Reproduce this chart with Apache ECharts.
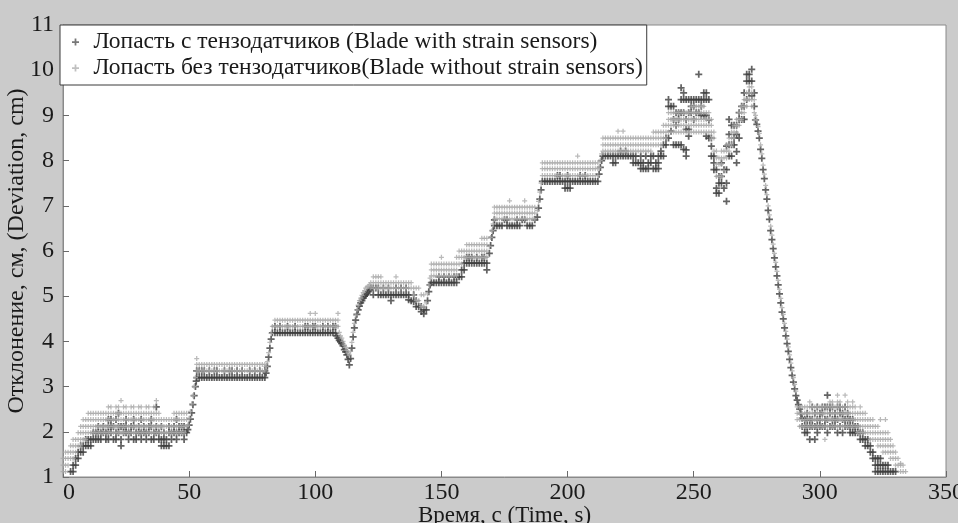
<!DOCTYPE html>
<html>
<head>
<meta charset="utf-8">
<script src="https://cdn.jsdelivr.net/npm/echarts@6/dist/echarts.min.js"></script>
<style>
html,body{margin:0;padding:0;background:#cbcbcb;}
#chart{width:958px;height:523px;}
</style>
</head>
<body>
<div id="chart"></div>
<script>
// Series names
const darkName = 'Лопасть с тензодатчиков (Blade with strain sensors)';
const lightName = 'Лопасть без тензодатчиков(Blade without strain sensors)';
const xTitle = 'Время, с (Time, s)';
const yTitle = 'Отклонение, см, (Deviation, cm)';

// Each column: [time s, deviation values recorded at that second...]
const darkEarly = [
[3,1.12],[4,1.12,1.26],[5,1.26,1.41],[6,1.41,1.55],[7,1.55,1.69],[8,1.55,1.69],[9,1.69,1.83],[10,1.69,1.83],[11,1.69,1.83],[12,1.83,1.98],[13,1.83,1.98],[14,1.83,1.98,2.12],[15,1.83,1.98],[16,1.98,2.12],[17,1.83,1.98],[18,1.83,1.98,2.12,2.27],[19,1.98,2.12,2.27],[20,1.83,2.12],[21,1.83,1.98,2.27],[22,1.98,2.12,2.41],[23,1.69,1.83,2.12],[24,1.98,2.12],[25,1.98,2.12,2.27],[26,1.83,1.98],[27,1.98,2.12],[28,1.83,2.12,2.27],[29,1.83,1.98],[30,1.98,2.12],[31,1.83,1.98,2.27],[32,1.98,2.12],[33,1.83,1.98],[34,1.98,2.12],[35,1.83,2.12,2.27],[36,1.83,1.98],[37,1.98,2.12,2.55],[38,1.83,1.98],[39,1.69,1.83,2.12],[40,1.69,1.83,1.98],[41,1.69,1.83],[42,1.69,1.98,2.12],[43,1.83,1.98],[44,1.98,2.12],[45,1.83,1.98,2.27],[46,1.98,2.12],[47,1.98,2.12],[48,1.83,1.98,2.12],[49,1.98],
[53,3.2,3.35],[54,3.2,3.35],[55,3.2,3.35],[56,3.2,3.35],[57,3.2],[58,3.2,3.35],[59,3.2],[60,3.2,3.35],[61,3.2,3.35],[62,3.2],[63,3.2],[64,3.2,3.35],[65,3.2],[66,3.2,3.35],[67,3.2,3.35],[68,3.2],[69,3.2,3.35],[70,3.2],[71,3.2,3.35],[72,3.2],[73,3.2],[74,3.2,3.35],[75,3.2],[76,3.2,3.35],[77,3.2],[78,3.2,3.35],[79,3.2],[80,3.2,3.35],
[83,4.19],[84,4.19,4.33],[85,4.19],[86,4.19,4.33],[87,4.19],[88,4.19],[89,4.19,4.33],[90,4.19],[91,4.19],[92,4.19,4.33],[93,4.19],[94,4.19],[95,4.19],[96,4.19,4.33],[97,4.19,4.33],[98,4.19],[99,4.19,4.33]
];
const darkMid = [
[100,4.19,4.33],[101,4.19],[102,4.19],[103,4.19,4.33],[104,4.19],[105,4.19,4.33],[106,4.19],[107,4.19,4.33],[108,4.19,4.33],
[122,5.18],[123,5.03,5.18],[124,5.18],[125,5.03,5.18],[126,5.03],[127,5.03,5.18],[128,5.03],[129,5.03,5.18],[130,4.9,5.03],[131,5.03],[132,5.03,5.18],[133,5.03],[134,5.03,5.18],[135,5.03],[136,5.03,5.18],[137,4.92,5.03],[138,4.9],[139,4.88,5.03],[140,4.77,4.9],[141,4.77],[142,4.66,4.77],[143,4.61,4.7],
[146,5.3],[147,5.3],[148,5.3],[149,5.3,5.43],[150,5.3],[151,5.3,5.43],[152,5.3],[153,5.3,5.43],[154,5.3],[155,5.3,5.43],[156,5.3,5.43],[157,5.43],[158,5.43,5.58],[159,5.58,5.73],[160,5.73,5.86],[161,5.73,5.86],[162,5.73,5.86],[163,5.73],[164,5.73,5.86],[165,5.73],[166,5.73,5.86],[167,5.73,5.86],[168,5.58,5.73],
[171,6.56,6.69],[172,6.56],[173,6.56],[174,6.56],[175,6.69],[176,6.56,6.69],[177,6.56],[178,6.56],[179,6.56],[180,6.56,6.69],[181,6.56],[182,6.69],[183,6.69],[184,6.56],[185,6.56],[186,6.56],[187,6.69],
[190,7.54],[191,7.54],[192,7.54],[193,7.54],[194,7.54],[195,7.54],[196,7.54,7.67],[197,7.54,7.67],[198,7.54],[199,7.39,7.54]
];
const darkLate = [
[200,7.39,7.54,7.67],[201,7.39,7.54],[202,7.54],[203,7.54],[204,7.54],[205,7.54,7.67],[206,7.54],[207,7.54,7.67],[208,7.54],[209,7.54],[210,7.54],[211,7.54],[212,7.54],
[214,8.1],[215,8.1],[216,8.1],[217,8.1],[218,7.95,8.1],[219,7.95,8.1],[220,8.1],[221,8.1,8.21],[222,8.1],[223,8.1,8.21],[224,8.1],[225,8.1],[226,7.95,8.1],[227,7.95,8.1],[228,7.95],[229,7.82,7.95,8.1],[230,7.82,7.95],[231,7.82,8.1],[232,7.82,7.95],[233,7.95,8.1],[234,7.82,8.1],[235,7.82,7.95],[236,7.82,7.95,8.1],[237,8.1,8.21],
[238,8.1,8.35],[239,8.35,8.5],[240,8.5,9.2,9.35],[241,8.65,9.2],[242,8.35,8.91,9.2],[243,8.35,8.78,9.06],[244,8.35,8.91,9.06],[245,8.35,9.06,9.35,9.61],[246,8.25,9.06,9.35,9.5],[247,8.1,8.24,8.69,8.91,9.35],[248,8.54,8.69,9.06,9.35],[249,9.06,9.2,9.35],[250,8.91,9.2,9.35],[251,9.06,9.35],[252,9.06,9.35,9.91],[253,9.0,9.2,9.35],[254,9.0,9.35,9.5],[255,8.54,9.0,9.35,9.5],[256,8.5,8.9,9.35],[257,8.1,8.32,8.5],[258,7.8,7.95,8.1],[259,7.28,7.39,7.8],[260,7.28,7.5,7.65],[261,7.5,7.65,7.95],[262,7.39,7.8],[263,7.1,7.5,7.8,8.32],[264,8.1,8.35,8.58,8.91],[265,8.1,8.35,8.78],[266,8.35,8.5,8.78],[267,7.95,8.2,8.58,8.78],[268,8.5,8.91,9.06],[269,8.91,9.2],[270,8.91,9.2,9.5],[271,9.35,9.76,9.91],[272,9.5,9.76,9.91],[273,9.43,9.76,10.02],[274,9.2,9.5],
[293,2.12,2.3],[294,1.98,2.12,2.27],[295,1.98,2.12,2.27,2.41],[296,1.83,2.12,2.27],[297,2.12,2.27,2.55],[298,1.83,2.12,2.41],[299,1.98,2.12,2.27,2.55],[300,2.12,2.27,2.41],[301,2.12,2.41,2.55],[302,2.12,2.27,2.55],[303,1.98,2.27,2.55,2.81],[304,2.12,2.41,2.55],[305,2.12,2.27,2.55],[306,2.12,2.27,2.41],[307,1.98,2.27,2.55],[308,2.12,2.41,2.55],[309,1.98,2.27,2.41],[310,2.12,2.27,2.55],[311,2.12,2.27,2.41],[312,1.98,2.12,2.27],[313,1.98,2.12,2.27],[314,1.98,2.12],[315,1.98,2.12],[316,1.83,1.98],[317,1.83,1.98],[318,1.69,1.83],[319,1.69,1.83],[320,1.55,1.69],[321,1.41,1.55],[322,1.12,1.26,1.41],[323,1.12,1.26,1.41],[324,1.12,1.26,1.41],[325,1.12,1.26],[326,1.12,1.26],[327,1.12,1.26],[328,1.12],[329,1.12],[330,1.12]
];
// Steep transitions sampled more densely: [time s, deviation]
const darkSteep = [
[49.5,2.05],[50,2.15],[50.5,2.28],[51,2.42],[51.5,2.6],[52,2.8],[52.5,3.0],[52.8,3.12],
[80.5,3.3],[81,3.45],[81.5,3.65],[82,3.85],[82.5,4.05],
[108.5,4.12],[109,4.07],[109.5,4.02],[110,3.99],[110.5,3.95],[111,3.9],[111.5,3.82],[112,3.77],[112.5,3.7],[113,3.6],[113.5,3.48],[114,3.62],[114.5,3.85],[115,4.1],[115.5,4.3],[116,4.47],[116.5,4.6],[117,4.7],[117.5,4.78],[118,4.85],[118.5,4.9],[119,4.96],[119.5,5.0],[120,5.03],[120.5,5.06],[121,5.1],[121.5,5.14],
[144,4.7],[144.5,4.9],[145,5.1],[145.5,5.25],
[169,5.95],[169.5,6.12],[170,6.3],[170.5,6.45],
[188,6.75],[188.5,6.95],[189,7.15],[189.5,7.35],
[212.5,7.7],[213,7.85],[213.5,8.0],
[274.5,8.9],[275,8.8],[275.5,8.65],[276,8.5],[276.5,8.25],[277,8.05],[277.5,7.8],[278,7.6],[278.5,7.35],[279,7.15],[279.5,6.9],[280,6.7],[280.5,6.45],[281,6.25],[281.5,6.05],[282,5.85],[282.5,5.65],[283,5.45],[283.5,5.25],[284,5.05],[284.5,4.85],[285,4.65],[285.5,4.5],[286,4.3],[286.5,4.12],[287,3.95],[287.5,3.78],[288,3.6],[288.5,3.42],[289,3.25],[289.5,3.1],[290,2.95],[290.5,2.8],[291,2.7],[291.5,2.6],[292,2.5],[292.5,2.4]
];

const lightEarly = [
[0,1.12,1.26,1.41],[1,1.12,1.26,1.41,1.55],[2,1.26,1.41,1.55],[3,1.41,1.55,1.69],[4,1.41,1.55,1.69,1.83],[5,1.55,1.69,1.83],[6,1.69,1.83,1.98],[7,1.69,1.83,1.98,2.12],[8,1.83,1.98,2.12,2.27],[9,1.83,1.98,2.12,2.27],[10,1.98,2.12,2.27,2.41],[11,1.98,2.12,2.27,2.41],[12,1.98,2.12,2.27,2.41],[13,1.98,2.12,2.27,2.41],[14,1.98,2.12,2.27,2.41],[15,1.98,2.12,2.27,2.41],[16,1.98,2.12,2.27,2.41],[17,1.98,2.12,2.27,2.41],[18,1.98,2.12,2.27,2.41,2.55],[19,1.98,2.12,2.27,2.41,2.55],[20,1.98,2.12,2.27,2.41],[21,1.98,2.12,2.27,2.41,2.55],[22,1.98,2.12,2.27,2.41,2.55],[23,1.98,2.12,2.27,2.41,2.69],[24,1.98,2.12,2.27,2.41,2.55],[25,1.98,2.12,2.27,2.41,2.55],[26,1.98,2.12,2.27,2.41],[27,1.98,2.12,2.27,2.41,2.55],[28,1.98,2.12,2.27,2.41,2.55],[29,1.98,2.12,2.27,2.41],[30,1.98,2.12,2.27,2.41,2.55],[31,1.98,2.12,2.27,2.41,2.55],[32,1.98,2.12,2.27,2.41],[33,1.98,2.12,2.27,2.41,2.55],[34,1.98,2.12,2.27,2.41,2.55],[35,1.98,2.12,2.27,2.41],[36,1.98,2.12,2.27,2.41,2.55],[37,1.98,2.12,2.27,2.41,2.69],[38,1.98,2.12,2.27,2.41],[39,1.98,2.12,2.27],[40,1.98,2.12,2.27],[41,1.98,2.12,2.27],[42,1.98,2.12,2.27],[43,1.98,2.12,2.27],[44,1.98,2.12,2.27,2.41],[45,1.98,2.12,2.27,2.41],[46,1.98,2.12,2.27,2.41],[47,1.98,2.12,2.27,2.41],[48,1.98,2.12,2.27,2.41],[49,2.12,2.27,2.41],
[53,3.35,3.49,3.62],[54,3.35,3.49],[55,3.35,3.49],[56,3.35,3.49],[57,3.35,3.49],[58,3.35,3.49],[59,3.35,3.49],[60,3.35,3.49],[61,3.35,3.49],[62,3.35,3.49],[63,3.35,3.49],[64,3.35,3.49],[65,3.35,3.49],[66,3.35,3.49],[67,3.35,3.49],[68,3.35,3.49],[69,3.35,3.49],[70,3.35,3.49],[71,3.35,3.49],[72,3.35,3.49],[73,3.35,3.49],[74,3.35,3.49],[75,3.35,3.49],[76,3.35,3.49],[77,3.35,3.49],[78,3.35,3.49],[79,3.35,3.49],[80,3.35,3.49],
[83,4.33],[84,4.33,4.47],[85,4.33,4.47],[86,4.33,4.47],[87,4.33,4.47],[88,4.33,4.47],[89,4.33,4.47],[90,4.33,4.47],[91,4.33,4.47],[92,4.33,4.47],[93,4.33,4.47],[94,4.33,4.47],[95,4.33,4.47],[96,4.33,4.47],[97,4.33,4.47],[98,4.33,4.47,4.62],[99,4.33,4.47]
];
const lightMid = [
[100,4.33,4.47,4.62],[101,4.33,4.47],[102,4.33,4.47],[103,4.33,4.47],[104,4.33,4.47],[105,4.33,4.47],[106,4.33,4.47],[107,4.33,4.47],[108,4.33,4.47],[109,4.33,4.47,4.62],
[122,5.18,5.3],[123,5.18,5.3,5.43],[124,5.18,5.3,5.43],[125,5.18,5.3,5.43],[126,5.18,5.3,5.43],[127,5.18,5.3],[128,5.18,5.3],[129,5.18,5.3],[130,5.18,5.3],[131,5.18,5.3],[132,5.18,5.3,5.43],[133,5.18,5.3],[134,5.18,5.3],[135,5.18,5.3],[136,5.18,5.3],[137,5.18,5.3],[138,5.18,5.3],[139,5.03,5.18],[140,4.9,5.18],[141,4.9,5.18],[142,4.77,5.03],[143,4.77,5.03],
[146,5.45,5.58,5.71],[147,5.45,5.58,5.71],[148,5.45,5.58,5.71],[149,5.45,5.58,5.71],[150,5.45,5.58,5.71,5.86],[151,5.45,5.58,5.71],[152,5.45,5.58,5.71],[153,5.45,5.58,5.71],[154,5.45,5.58,5.71],[155,5.45,5.58,5.71],[156,5.45,5.58,5.71,5.86],[157,5.71,5.86,6.0],[158,5.71,5.86,6.0],[159,5.86,6.0],[160,5.86,6.0,6.14],[161,5.86,6.0,6.14],[162,5.86,6.0,6.14],[163,5.86,6.0,6.14],[164,5.86,6.0,6.14],[165,5.86,6.0,6.14],[166,5.86,6.0,6.14,6.28],[167,5.86,6.0,6.14,6.28],[168,5.86,6.0,6.14,6.28],
[171,6.71,6.84,6.97],[172,6.71,6.84,6.97],[173,6.71,6.84,6.97],[174,6.71,6.84,6.97],[175,6.71,6.84,6.97],[176,6.71,6.84,6.97],[177,6.71,6.84,6.97,7.11],[178,6.71,6.84,6.97],[179,6.71,6.84,6.97],[180,6.71,6.84,6.97],[181,6.71,6.84,6.97],[182,6.71,6.84,6.97],[183,6.71,6.84,6.97,7.11],[184,6.71,6.84,6.97],[185,6.71,6.84,6.97],[186,6.71,6.84,6.97],[187,6.71,6.84,6.97],
[190,7.67,7.82,7.95],[191,7.67,7.82,7.95],[192,7.67,7.82,7.95],[193,7.67,7.82,7.95],[194,7.67,7.82,7.95],[195,7.67,7.82,7.95],[196,7.67,7.82,7.95],[197,7.67,7.82,7.95],[198,7.67,7.82,7.95],[199,7.67,7.82,7.95]
];
const lightLate = [
[200,7.67,7.82,7.95],[201,7.67,7.82,7.95],[202,7.67,7.82,7.95],[203,7.67,7.82,7.95],[204,7.67,7.82,7.95,8.1],[205,7.67,7.82,7.95],[206,7.67,7.82,7.95],[207,7.67,7.82,7.95],[208,7.67,7.82,7.95],[209,7.67,7.82,7.95],[210,7.67,7.82,7.95],[211,7.67,7.82,7.95],[212,7.67,7.82,7.95],
[214,8.21,8.35,8.5],[215,8.21,8.35,8.5],[216,8.21,8.35,8.5],[217,8.21,8.35,8.5],[218,8.21,8.35,8.5],[219,8.21,8.35,8.5],[220,8.21,8.35,8.5,8.65],[221,8.21,8.35,8.5],[222,8.21,8.35,8.5,8.65],[223,8.21,8.35,8.5],[224,8.21,8.35,8.5],[225,8.21,8.35,8.5],[226,8.21,8.35,8.5],[227,8.21,8.35,8.5],[228,8.21,8.35,8.5],[229,8.21,8.35,8.5],[230,8.21,8.35,8.5],[231,8.21,8.35,8.5],[232,8.21,8.35,8.5],[233,8.21,8.35,8.5],
[234,8.35,8.5,8.63],[235,8.35,8.5,8.63],[236,8.35,8.5,8.63],[237,8.35,8.5,8.63],[238,8.5,8.63,8.78],[239,8.5,8.63,8.78],
[240,8.63,8.78,8.91,9.06],[241,8.63,8.78,8.91,9.06],[242,8.63,8.78,8.91,9.06],[243,8.63,8.78,8.91,9.06],[244,8.63,8.78,8.91,9.06],[245,8.63,8.78,8.91,9.06],[246,8.63,8.78,8.91,9.06],[247,8.63,8.78,8.91,9.06],[248,8.63,8.78,8.91,9.06],[249,8.63,8.78,8.91,9.06,9.2],[250,8.63,8.78,8.91,9.06,9.2],[251,8.63,8.78,8.91,9.06,9.2],[252,8.63,8.78,8.91,9.06,9.2],[253,8.63,8.78,8.91,9.06,9.2],[254,8.63,8.78,8.91,9.06,9.2],
[255,8.63,8.78,8.91,9.06],[256,8.63,8.78,8.91,9.06],[257,8.5,8.63,8.78,8.91],[258,8.21,8.5,8.63],[259,7.65,7.92,8.06,8.21],[260,7.65,7.92,8.06],[261,7.65,7.92,8.06,8.21],[262,7.78,8.06,8.21],[263,8.06,8.21,8.35],[264,8.21,8.35,8.5],[265,8.35,8.5,8.63],[266,8.5,8.63,8.78],[267,8.63,8.78,8.91],[268,8.78,8.91,9.06],[269,8.91,9.06,9.2],[270,9.06,9.2,9.35],[271,9.2,9.35,9.5],[272,9.35,9.5,9.63],[273,9.2,9.35,9.5,9.63],[274,8.9,9.06,9.35],
[291,2.27,2.41,2.55],[292,2.12,2.27,2.41,2.55],[293,2.12,2.27,2.41,2.55],[294,2.12,2.27,2.41,2.55],[295,2.12,2.27,2.41,2.55],[296,2.12,2.27,2.41,2.55,2.66],[297,2.12,2.27,2.41,2.55],[298,2.12,2.27,2.41,2.55],[299,2.12,2.27,2.41,2.55],[300,2.12,2.27,2.41,2.55],[301,2.12,2.27,2.41,2.55],[302,1.83,2.12,2.27,2.41,2.55],[303,2.12,2.27,2.41,2.55],[304,2.12,2.27,2.41,2.55,2.66],[305,2.12,2.27,2.41,2.55,2.66],[306,2.12,2.27,2.41,2.55],[307,2.12,2.27,2.41,2.55,2.66,2.81],[308,2.12,2.27,2.41,2.55,2.66],[309,2.12,2.27,2.41,2.55],[310,2.12,2.27,2.41,2.55,2.81],[311,2.12,2.27,2.41,2.55,2.66],[312,2.12,2.27,2.41,2.55],[313,2.12,2.27,2.41,2.55,2.66],[314,2.12,2.27,2.41,2.55],[315,1.98,2.12,2.27,2.41],[316,1.98,2.12,2.27,2.41,2.55],[317,1.98,2.12,2.27,2.41],[318,1.98,2.12,2.27,2.41],[319,1.98,2.12,2.27],[320,1.83,1.98,2.12,2.27],[321,1.83,1.98,2.12,2.27],[322,1.83,1.98,2.12],[323,1.69,1.83,1.98,2.12],[324,1.69,1.83,1.98,2.27],[325,1.55,1.69,1.83,1.98],[326,1.55,1.69,1.83,1.98,2.27],[327,1.55,1.69,1.83,1.98],[328,1.41,1.55,1.69,1.83],[329,1.41,1.55,1.69],[330,1.26,1.41,1.55],[331,1.26,1.41],[332,1.12,1.26,1.3],[333,1.12,1.26],[334,1.12]
];
const lightSteep = [
[49.5,2.15],[50,2.3],[50.5,2.45],[51,2.62],[51.5,2.8],[52,3.0],[52.5,3.2],
[80.5,3.45],[81,3.55],[81.5,3.75],[82,3.98],[82.5,4.18],
[109.5,4.2],[110,4.12],[110.5,4.07],[111,4.0],[111.5,3.92],[112,3.87],[112.5,3.8],[113,3.74],[113.5,3.7],[114,3.78],[114.5,3.98],[115,4.2],[115.5,4.4],[116,4.58],[116.5,4.7],[117,4.8],[117.5,4.9],[118,4.96],[118.5,5.02],[119,5.08],[119.5,5.12],[120,5.18],[120.5,5.2],[121,5.22],[121.5,5.25],
[144,4.85],[144.5,5.05],[145,5.25],[145.5,5.4],
[169,6.1],[169.5,6.3],[170,6.45],[170.5,6.6],
[188,6.9],[188.5,7.1],[189,7.3],[189.5,7.5],
[212.5,7.85],[213,8.0],[213.5,8.15],
[274.5,9.0],[275,8.9],[275.5,8.75],[276,8.6],[276.5,8.35],[277,8.15],[277.5,7.9],[278,7.7],[278.5,7.45],[279,7.25],[279.5,7.0],[280,6.8],[280.5,6.55],[281,6.35],[281.5,6.15],[282,5.95],[282.5,5.75],[283,5.55],[283.5,5.35],[284,5.15],[284.5,4.95],[285,4.75],[285.5,4.6],[286,4.4],[286.5,4.22],[287,4.05],[287.5,3.88],[288,3.7],[288.5,3.52],[289,3.35],[289.5,3.2],[290,3.05],[290.5,2.9]
];

// Axis ticks
const xTicks = [0, 50, 100, 150, 200, 250, 300, 350];
const yTicks = [1, 2, 3, 4, 5, 6, 7, 8, 9, 10, 11];

function expand(cols) {
  const out = [];
  cols.forEach(c => { for (let i = 1; i < c.length; i++) out.push([c[0], c[i]]); });
  return out;
}
const darkData = expand(darkEarly).concat(expand(darkMid), expand(darkLate), darkSteep);
const lightData = expand(lightEarly).concat(expand(lightMid), expand(lightLate), lightSteep);

const plusPath = 'path://M3,0H5V3H8V5H5V8H3V5H0V3H3Z';
const serif = "'Liberation Serif','DejaVu Serif',serif";

const chart = echarts.init(document.getElementById('chart'));
chart.setOption({
  animation: false,
  backgroundColor: '#cbcbcb',
  grid: {left: 63, right: 12, top: 25, bottom: 46, containLabel: false, outerBoundsMode: 'none',
         show: true, backgroundColor: '#ffffff', borderColor: '#8a8a8a', borderWidth: 1},
  legend: {
    orient: 'vertical', left: 60, top: 25,
    padding: [5, 4, 5, 12], itemGap: 2,
    itemWidth: 26, itemHeight: 7,
    backgroundColor: '#ffffff', borderColor: '#3a3a3a', borderWidth: 1,
    textStyle: {fontFamily: serif, fontSize: 23.5, color: '#1a1a1a', lineHeight: 24},
    data: [
      {name: darkName, icon: plusPath, itemStyle: {color: '#555555'}},
      {name: lightName, icon: plusPath, itemStyle: {color: '#b0b0b0'}}
    ]
  },
  xAxis: {
    type: 'value', min: xTicks[0], max: xTicks[xTicks.length - 1], interval: 50,
    name: xTitle, nameLocation: 'middle', nameGap: 27, nameMoveOverlap: false,
    nameTextStyle: {fontFamily: serif, fontSize: 23, color: '#1a1a1a', verticalAlign: 'top'},
    axisLine: {lineStyle: {color: '#8a8a8a'}},
    axisTick: {inside: true, length: 6, lineStyle: {color: '#6a6a6a'}},
    axisLabel: {fontFamily: serif, fontSize: 24, color: '#1a1a1a', margin: 4, alignMinLabel: 'left'},
    splitLine: {show: false}
  },
  yAxis: {
    type: 'value', min: yTicks[0], max: yTicks[yTicks.length - 1], interval: 1,
    name: yTitle, nameLocation: 'middle', nameGap: 34, nameMoveOverlap: false,
    nameTextStyle: {fontFamily: serif, fontSize: 24, color: '#1a1a1a'},
    axisLine: {lineStyle: {color: '#8a8a8a'}},
    axisTick: {inside: true, length: 6, lineStyle: {color: '#6a6a6a'}},
    axisLabel: {fontFamily: serif, fontSize: 24, color: '#1a1a1a', margin: 9},
    splitLine: {show: false}
  },
  series: [
    {type: 'scatter', name: darkName, data: darkData, symbol: plusPath, symbolSize: 7,
     itemStyle: {color: '#3c3c3c'}, silent: true, z: 2},
    {type: 'scatter', name: lightName, data: lightData, symbol: plusPath, symbolSize: 5,
     itemStyle: {color: '#a9a9a9'}, silent: true, z: 3}
  ]
});
</script>
</body>
</html>
